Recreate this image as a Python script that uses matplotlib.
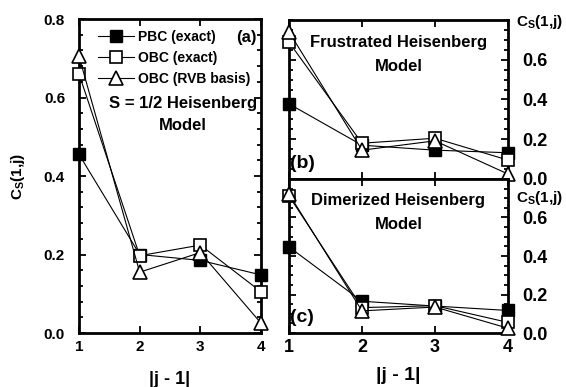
import numpy as np
import matplotlib.pyplot as plt
from matplotlib.ticker import MultipleLocator

plt.rcParams['font.family'] = 'Liberation Sans'
plt.rcParams['font.weight'] = 'bold'
plt.rcParams['mathtext.fontset'] = 'custom'
plt.rcParams['mathtext.rm'] = 'Liberation Sans:bold'
plt.rcParams['mathtext.bf'] = 'Liberation Sans:bold'

dist = [1, 2, 3, 4]

# (a) S = 1/2 Heisenberg
pbc_a = [0.455, 0.20, 0.185, 0.148]
obc_a = [0.660, 0.197, 0.224, 0.105]
rvb_a = [0.705, 0.155, 0.205, 0.025]

# (b) frustrated
pbc_b = [0.378, 0.17, 0.145, 0.132]
obc_b = [0.688, 0.18, 0.205, 0.095]
rvb_b = [0.740, 0.145, 0.192, 0.025]

# (c) dimerized
pbc_c = [0.447, 0.165, 0.140, 0.117]
obc_c = [0.712, 0.132, 0.142, 0.055]
rvb_c = [0.722, 0.115, 0.135, 0.025]

labels = ['PBC (exact)', 'OBC (exact)', 'OBC (RVB basis)']
ylab = 'C$_{\\mathrm{S}}$(1,j)'

fig = plt.figure(figsize=(5.66, 3.87), dpi=100)
ax_a = fig.add_axes([0.1396, 0.1395, 0.3216, 0.8114])
ax_b = fig.add_axes([0.5106, 0.5375, 0.3869, 0.4109])
ax_c = fig.add_axes([0.5106, 0.1395, 0.3869, 0.398])


def draw(ax, pbc, obc, rvb):
    ax.plot(dist, pbc, 'k-', lw=0.8, marker='s', ms=9, mfc='black', mec='black',
            clip_on=False, zorder=3, label=labels[0])
    ax.plot(dist, obc, 'k-', lw=0.8, marker='s', ms=9, mfc='white', mec='black',
            mew=1.2, clip_on=False, zorder=4, label=labels[1])
    ax.plot(dist, rvb, 'k-', lw=0.8, marker='^', ms=10, mfc='white', mec='black',
            mew=1.2, clip_on=False, zorder=5, label=labels[2])
    ax.set_xlim(1, 4)
    ax.set_ylim(0, 0.8)
    ax.set_xticks(dist)
    for s in ax.spines.values():
        s.set_linewidth(2)
    ax.tick_params(which='both', direction='in', top=True, right=True, width=1.3)
    ax.tick_params(which='major', length=5)
    ax.tick_params(which='minor', length=3)


draw(ax_a, pbc_a, obc_a, rvb_a)
ax_a.yaxis.set_major_locator(MultipleLocator(0.2))
ax_a.yaxis.set_minor_locator(MultipleLocator(0.04))
ax_a.set_yticklabels(['%.1f' % v for v in ax_a.get_yticks()])
ax_a.tick_params(axis='y', labelsize=11, pad=10)
ax_a.tick_params(axis='x', labelsize=11, pad=5)
ax_a.set_xlabel('|j - 1|', fontsize=13, fontweight='bold', labelpad=12)
ax_a.set_ylabel(ylab, fontsize=11, fontweight='bold', labelpad=12)
ax_a.legend(loc='upper left', bbox_to_anchor=(0.05, 0.995), frameon=False,
            prop={'size': 10, 'weight': 'bold'}, handlelength=2.6,
            handletextpad=0.3, labelspacing=0.5, borderaxespad=0.3)
ax_a.text(0.975, 0.94, '(a)', transform=ax_a.transAxes, ha='right', va='center',
          fontsize=12, fontweight='bold')
ax_a.text(0.57, 0.697, 'S = 1/2 Heisenberg\nModel', transform=ax_a.transAxes,
          ha='center', va='center', fontsize=12, fontweight='bold', linespacing=1.6)

for ax, pbc, obc, rvb, title, tag in [
        (ax_b, pbc_b, obc_b, rvb_b, 'Frustrated Heisenberg\nModel', '(b)'),
        (ax_c, pbc_c, obc_c, rvb_c, 'Dimerized Heisenberg\nModel', '(c)')]:
    draw(ax, pbc, obc, rvb)
    ax.set_yticks([0.0, 0.2, 0.4, 0.6])
    ax.set_yticklabels(['0.0', '0.2', '0.4', '0.6'])
    ax.yaxis.set_minor_locator(MultipleLocator(0.05))
    ax.tick_params(axis='y', labelleft=False, labelright=True, labelsize=13, pad=10)
    ax.tick_params(axis='x', labelsize=13, pad=4)
    ax.text(1.035, 0.99, ylab, transform=ax.transAxes, ha='left', va='center',
            fontsize=11, fontweight='bold')
    ax.text(0.5, 0.78, title, transform=ax.transAxes, ha='center', va='center',
            fontsize=12, fontweight='bold', linespacing=1.75)
    ax.text(0.005, 0.1, tag, transform=ax.transAxes, ha='left', va='center',
            fontsize=14, fontweight='bold')

ax_b.tick_params(axis='x', labelbottom=False)
ax_c.set_xlabel('|j - 1|', fontsize=14, fontweight='bold', labelpad=8)
ax_c.texts[0].set_position((1.035, 0.875))

fig.savefig('out.png', dpi=100)
